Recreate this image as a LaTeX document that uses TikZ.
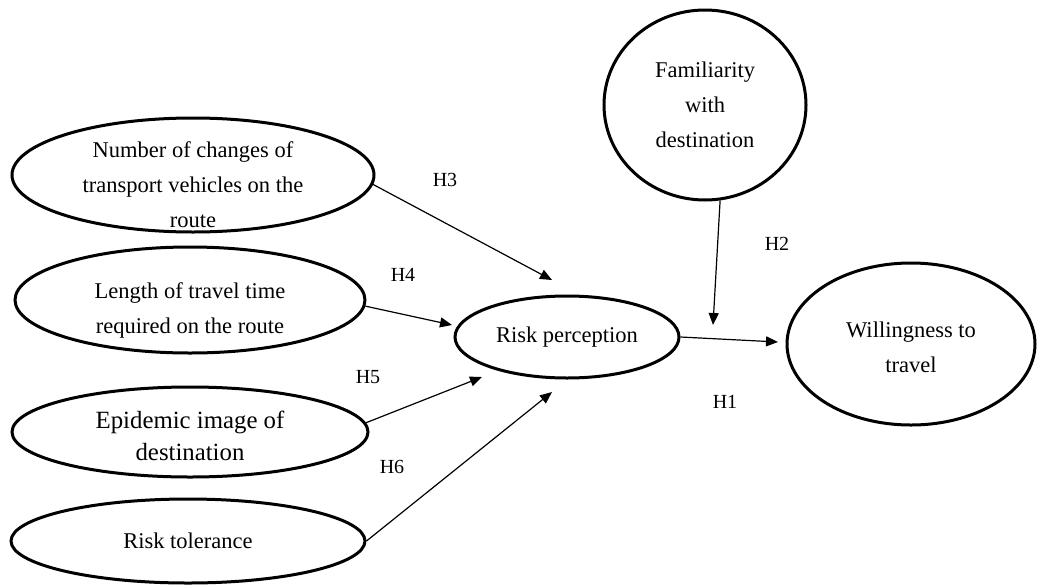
\documentclass[tikz,border=0pt]{standalone}
\usepackage{fontspec}
\setmainfont{Liberation Serif}
\usetikzlibrary{shapes.geometric,arrows.meta}
\tikzset{
  construct/.style={draw, line width=1.5pt, ellipse, inner sep=-10pt, align=center,
    font=\fontsize{11.25}{17.5}\selectfont},
  hyp/.style={line width=0.6pt, -{Triangle[length=6pt,width=5pt]}},
  hlabel/.style={font=\fontsize{10}{12}\selectfont}
}
\begin{document}
\begin{tikzpicture}[x=0.5pt, y=-0.5pt]
  \useasboundingbox (0,0) rectangle (1038,584);
  \node[construct, minimum width=181pt, minimum height=57pt] (num) at (193,175) {\rule{0pt}{18pt}Number of changes of\\transport vehicles on the\\route};
  \node[construct, minimum width=175pt, minimum height=53pt] (len) at (190,300) {\rule{0pt}{18pt}Length of travel time\\required on the route};
  \node[construct, minimum width=178pt, minimum height=45pt, font=\fontsize{12.4}{16}\selectfont] (epi) at (190,432) {\rule{0pt}{13pt}Epidemic image of\\destination};
  \node[construct, minimum width=177pt, minimum height=42pt] (tol) at (188,541) {Risk tolerance};
  \node[construct, minimum width=112pt, minimum height=41pt] (risk) at (567,337) {Risk perception};
  \node[construct, minimum width=101pt, minimum height=95pt] (fam) at (705,105) {Familiarity\\with\\destination};
  \node[construct, minimum width=124pt, minimum height=81pt] (will) at (911,344) {\rule{0pt}{11pt}Willingness to\\travel};
  % arrow tips
  \foreach \c/\x/\y in {t1/778/342, t2/713/325, t3/552/280, t4/452/325, t5/482/377, t6/552/392}
    \coordinate (\c) at (\x,\y);
  \foreach \s/\t/\h/\lx/\ly in {risk.east/t1/H1/725/402, fam.-81/t2/H2/777/244, num.-3/t3/H3/445/180,
      len.-2/t4/H4/403/275, epi.3/t5/H5/368/377, tol.east/t6/H6/392/467} {
    \draw[hyp] (\s) -- (\t);
    \node[hlabel] (l\h) at (\lx,\ly) {\h};
  }
\end{tikzpicture}
\end{document}
